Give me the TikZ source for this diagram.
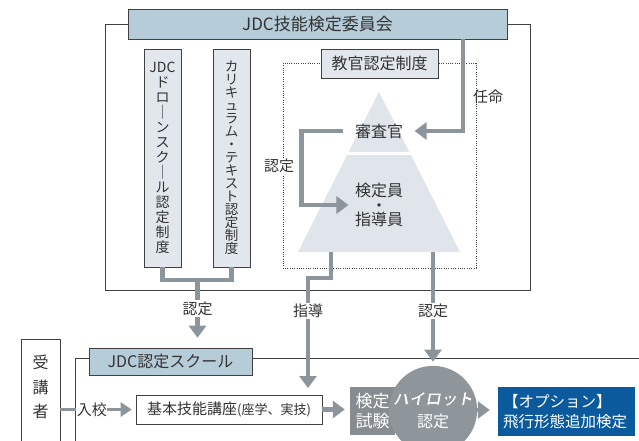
\documentclass[tikz,border=0pt]{standalone}
\usepackage{fontspec}
\setmainfont{Noto Sans CJK JP}
\usetikzlibrary{arrows.meta}
\definecolor{headblue}{HTML}{B6CCD8}
\definecolor{paleblue}{HTML}{E1E7EC}
\definecolor{pyramidblue}{HTML}{DFE5EA}
\definecolor{arrowgray}{HTML}{8C959C}
\definecolor{examgray}{HTML}{878C90}
\definecolor{pilotgray}{HTML}{8F969B}
\definecolor{optionblue}{HTML}{0B5A9E}
\definecolor{linegray}{HTML}{404040}
\definecolor{textgray}{HTML}{333333}
\newcommand{\pilotword}[1]{{\color{white}\special{pdf:literal direct 0.561 0.588 0.608 RG}\bfseries\addfontfeature{FakeBold=5, FakeSlant=0.18}#1}}
\tikzset{myboxHead/.style={draw=linegray, line width=0.6pt, fill=headblue, inner sep=0pt}}
\tikzset{myboxVert/.style={draw=linegray, line width=0.6pt, fill=paleblue, minimum width=37pt, minimum height=218pt, inner sep=0pt, align=center}}
\tikzset{myarrow/.style={draw=arrowgray, line width=4.5pt, -{Triangle[width=17pt,length=12pt]}}}
\tikzset{myarrowThin/.style={draw=arrowgray, line width=3pt, -{Triangle[width=14pt,length=11pt]}}}
\tikzset{mylabel/.style={fill=white, inner sep=1.5pt}}

\begin{document}
\begin{tikzpicture}[x=1pt, y=-1pt, font=\fontsize{15}{18}\selectfont, every node/.style={text=textgray}]
\useasboundingbox (0,0) rectangle (639,441);
\clip (0,0) rectangle (639,441);

\draw[linegray, line width=0.6pt] (105,24) rectangle (530,290);
\node[myboxHead, minimum width=379pt, minimum height=30pt, font=\fontsize{17}{20}\selectfont] (committee) at (317.5, 24) {JDC技能検定委員会};

\node[myboxVert, font=\fontsize{14}{15}\selectfont] (droneschool) at (162.5, 158) {JDC\\ド\\ロ\\｜\\ン\\ス\\ク\\｜\\ル\\認\\定\\制\\度};
\node[myboxVert, font=\fontsize{13.5}{13}\selectfont] (curriculum) at (231.5, 158) {カ\\リ\\キ\\ュ\\ラ\\ム\\・\\テ\\キ\\ス\\ト\\認\\定\\制\\度};

\draw[linegray, line width=0.6pt, dash pattern=on 1pt off 1.3pt] (283,63) rectangle (476,268);
\node[myboxHead, fill=paleblue, minimum width=117pt, minimum height=29pt, font=\fontsize{16}{18}\selectfont] (kyokan) at (379.5, 63.5) {教官認定制度};

\fill[pyramidblue] (379,92) -- (460,252) -- (298,252) -- cycle;
\draw[white, line width=3pt] (300,153) -- (458,153);
\coordinate (pyrLeft) at (331,252);
\coordinate (pyrRight) at (433,252);

\node[font=\fontsize{16}{18}\selectfont] (shinsa) at (379, 131) {審査官};
\node[align=center, font=\fontsize{16}{14.5}\selectfont] (kentei) at (379, 205) {検定員\\・\\指導員};

\draw[myarrow] ([xshift=145.5pt]committee.south) |- ([xshift=8pt]shinsa.east);
\node[] (ninmei) at (488, 97) {任命};

\draw[myarrow] ([xshift=-8pt]shinsa.west) -- ++(-42,0) |- ([xshift=-3pt]kentei.west);
\node[mylabel] (nintei1) at (279, 166) {認定};

\coordinate (branch) at (197.5, 280);
\draw[arrowgray, line width=4.5pt] (droneschool.south) |- (branch) -| (curriculum.south);

\node[draw=linegray, line width=0.6pt, minimum width=39pt, minimum height=130pt, anchor=north, inner sep=0pt] (juko) at (40.5, 339) {};
\node[align=center, font=\fontsize{16}{24.5}\selectfont] (jukoText) at (40.5, 387) {受\\講\\者};

\node[myboxHead, minimum width=163pt, minimum height=27pt, font=\fontsize{16}{18}\selectfont] (school) at (170.5, 361.5) {JDC認定スクール};
\draw[linegray, line width=0.6pt] ([yshift=3.5pt]school.west) -| (75,441);
\draw[linegray, line width=0.6pt] ([yshift=3.5pt]school.east) -- (639,358);

\draw[myarrow, shorten >=10pt] (branch) -- (branch |- school.north) node[mylabel, pos=0.42] (nintei2) {認定};

\node[draw=linegray, line width=0.6pt, fill=white, minimum width=186pt, minimum height=29pt] (kihon) at (229, 409.5) {基本技能講座{\fontsize{13}{14}\selectfont (座学、実技)}};

\draw[myarrowThin, shorten >=4pt] (juko.east |- kihon) -- (kihon.west) node[mylabel, pos=0.42, inner sep=0.5pt] (nyuko) {入校};

\coordinate (shidoEnd) at (308, 395);
\draw[myarrow, shorten >=7pt] (pyrLeft) -- ++(0,26) -- ++(-23,0) -- (shidoEnd);
\node[mylabel] (shido) at (308, 311) {指導};

\node[fill=examgray, text=white, minimum width=45pt, minimum height=48pt, inner sep=0pt, align=center, font=\fontsize{17}{20}\selectfont] (shiken) at (372.5, 411) {検定\\試験};

\node[circle, fill=pilotgray, minimum size=56pt, inner sep=0pt, text=white, align=center, font=\fontsize{16}{23}\selectfont] (pilot) at (433, 410) {\pilotword{パイロット}\\認定};

\draw[myarrow, shorten >=4pt] (pyrRight) -- (pilot.north);
\node[mylabel] (nintei3) at (433, 311) {認定};

\node[fill=optionblue, text=white, minimum width=137pt, minimum height=49pt, inner sep=0pt, text width=127pt, align=left, font=\fontsize{15.5}{20}\selectfont] (option) at (566.5, 411.5) {【オプション】\\飛行形態追加検定};

\draw[myarrow, shorten >=5pt] (kihon.east) -- (kihon.east -| shiken.west);
\draw[myarrow, shorten >=8pt] (pilot.east) -- (pilot.east -| option.west);

\end{tikzpicture}
\end{document}
